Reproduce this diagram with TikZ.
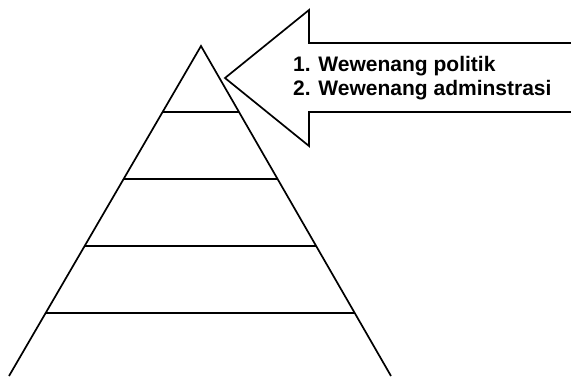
\documentclass[tikz,border=0pt]{standalone}
\usepackage{fontspec}
\setmainfont{Liberation Sans}
\usetikzlibrary{calc}

\begin{document}
\begin{tikzpicture}[x=1pt,y=-1pt,
					line join=miter,
					outline/.style={draw,line width=1.7pt},
					layer line/.style={line width=1.7pt},
					label text/.style={anchor=base west,align=left,inner sep=0pt,
					                   font=\fontsize{21}{23.5}\selectfont\bfseries}]

  \useasboundingbox (0,0) rectangle (571,376);
  \clip (0,0) rectangle (571,376);

  % pyramid
  \coordinate (apex) at (201,46);
  \coordinate (left foot) at (9,376);
  \coordinate (right foot) at (391,376);
  \draw[outline] (left foot) -- (apex) -- (right foot);
  \foreach \t in {0.2,0.403,0.606,0.809}
    \draw[layer line] ($(apex)!\t!(left foot)$) -- ($(apex)!\t!(right foot)$);

  % arrow pointing at the top
  \coordinate (tip) at (225,78);
  \coordinate (head top) at (309,10);
  \coordinate (head bottom) at (309,146);
  \coordinate (shaft top) at (309,43);
  \coordinate (shaft bottom) at (309,112);
  \coordinate (tail top) at (580,43);
  \coordinate (tail bottom) at (580,112);
  \draw[outline] (tail top) -- (shaft top) -- (head top) -- (tip)
    -- (head bottom) -- (shaft bottom) -- (tail bottom);

  % base of the last line
  \node[label text] (list) at (293,95)
    {1. Wewenang politik\\2. Wewenang adminstrasi};
\end{tikzpicture}
\end{document}
